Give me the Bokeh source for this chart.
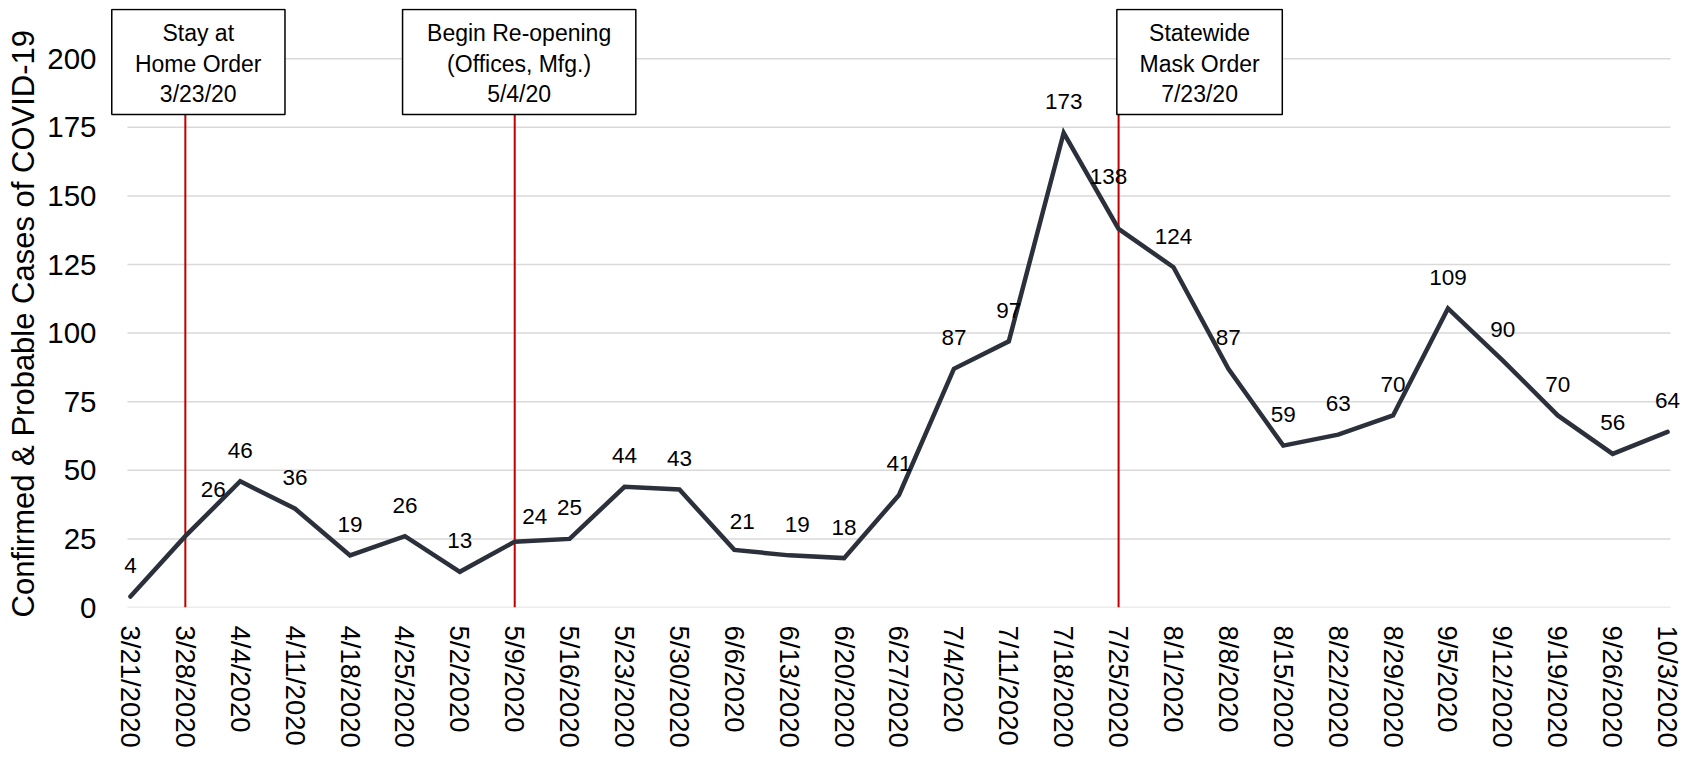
from bokeh.plotting import figure
from bokeh.models import Range1d, FixedTicker, ColumnDataSource, LabelSet, Title
from bokeh.core.properties import value
from bokeh.embed import file_html
from bokeh.resources import INLINE

# ---------------- data ----------------
week_labels = ["3/21/2020", "3/28/2020", "4/4/2020", "4/11/2020", "4/18/2020", "4/25/2020",
               "5/2/2020", "5/9/2020", "5/16/2020", "5/23/2020", "5/30/2020", "6/6/2020",
               "6/13/2020", "6/20/2020", "6/27/2020", "7/4/2020", "7/11/2020", "7/18/2020",
               "7/25/2020", "8/1/2020", "8/8/2020", "8/15/2020", "8/22/2020", "8/29/2020",
               "9/5/2020", "9/12/2020", "9/19/2020", "9/26/2020", "10/3/2020"]
cases = [4, 26, 46, 36, 19, 26, 13, 24, 25, 44, 43, 21, 19, 18, 41, 87, 97, 173,
         138, 124, 87, 59, 63, 70, 109, 90, 70, 56, 64]
y_ticks = [0, 25, 50, 75, 100, 125, 150, 175, 200]
y_axis_title = "Confirmed & Probable Cases of COVID-19"

event_texts = [["Stay at", "Home Order", "3/23/20"],
               ["Begin Re-opening", "(Offices, Mfg.)", "5/4/20"],
               ["Statewide", "Mask Order", "7/23/20"]]
event_weeks = ["3/28/2020", "5/9/2020", "7/25/2020"]

# ---------------- layout / style ----------------
FONT = "Liberation Sans"
LINE_COLOR = "#2b303b"
RED = "#c00000"
GRID = "#d9d9d9"

# horizontal layout (page pixels)
FIG_W = 1698
FRAME_LEFT_PAGE = 113
FIRST_PT_PAGE = 133.0
PX_PER_CAT = 55.07
PAGE_MARGIN = 8
n = len(week_labels)
x_start = (FRAME_LEFT_PAGE - FIRST_PT_PAGE) / PX_PER_CAT
x_end = (n - 1) + (PAGE_MARGIN + FIG_W - (FIRST_PT_PAGE + (n - 1) * PX_PER_CAT)) / PX_PER_CAT
GRID_PAD = 0.0545  # gridline extends slightly beyond first/last category

# box geometry (category units / data units)
BOX_TOP = 217.9
BOX_BOTTOM = 179.7
box_lr = [(-0.34, 2.815), (4.957, 9.206), (17.968, 20.982)]
box_cx = [1.235, 7.08, 19.475]
line_centers = [209.4, 198.1, 187.1]

# label offsets (screen px); default above the point
dx = [0] * n
dy = [31] * n
for i, (ox, oy) in {1: (28, 47), 7: (20, 25), 11: (8, 28), 12: (8, 31), 18: (-10, 52)}.items():
    dx[i], dy[i] = ox, oy

xs = list(range(n))

p = figure(width=FIG_W, height=750, output_backend="svg", toolbar_location=None,
           x_range=Range1d(x_start, x_end), y_range=Range1d(0, 218.3),
           min_border_left=FRAME_LEFT_PAGE - PAGE_MARGIN, min_border_right=0,
           min_border_top=8, min_border_bottom=142)
p.outline_line_color = None
p.background_fill_color = "white"
p.border_fill_color = "white"

p.xgrid.grid_line_color = None
p.ygrid.grid_line_color = None
p.yaxis.ticker = FixedTicker(ticks=y_ticks)
p.xaxis.ticker = FixedTicker(ticks=xs)
p.xaxis.major_label_overrides = {i: lab for i, lab in enumerate(week_labels)}

for ax in (p.xaxis[0], p.yaxis[0]):
    ax.axis_line_color = None
    ax.major_tick_line_color = None
    ax.minor_tick_line_color = None
    ax.major_tick_out = 0
    ax.major_tick_in = 0
    ax.major_label_text_font = FONT
    ax.major_label_text_color = "#000000"

p.xaxis.major_label_orientation = "vertical"
p.xaxis.major_label_text_font_size = "27.5px"
p.xaxis.major_label_standoff = 18
p.yaxis.major_label_text_font_size = "29.5px"
p.yaxis.major_label_standoff = 14

# y-axis title as a side title (starts slightly below the plot bottom, as in the original)
p.add_layout(Title(text=y_axis_title, align="left", offset=-10, standoff=7,
                   text_font=FONT, text_font_style="normal", text_font_size="31px",
                   text_color="#000000"), "left")

# horizontal gridlines spanning the category extent
p.segment(x0=[-GRID_PAD] * len(y_ticks), y0=y_ticks,
          x1=[(n - 1) + GRID_PAD] * len(y_ticks), y1=y_ticks,
          line_color=GRID, line_width=1.5)

# event red lines
ev_x = [week_labels.index(w) for w in event_weeks]
p.segment(x0=ev_x, y0=[0] * len(ev_x), x1=ev_x, y1=[BOX_BOTTOM] * len(ev_x),
          line_color=RED, line_width=2)

# main line
p.line(xs, cases, line_color=LINE_COLOR, line_width=4.5, line_join="miter", line_cap="round")

# data labels
src = ColumnDataSource(dict(x=xs, y=cases, t=[str(c) for c in cases], dx=dx, dy=dy))
p.add_layout(LabelSet(x="x", y="y", text="t", source=src, x_offset="dx", y_offset="dy",
                      text_align="center", text_baseline="middle",
                      text_font=value(FONT), text_font_size="22.5px", text_color="#000000"))

# event boxes
p.quad(left=[a for a, b in box_lr], right=[b for a, b in box_lr],
       top=[BOX_TOP] * 3, bottom=[BOX_BOTTOM] * 3,
       fill_color="white", line_color="#000000", line_width=1.5)
tx, ty, tt = [], [], []
for cx, lines in zip(box_cx, event_texts):
    for yc, s in zip(line_centers, lines):
        tx.append(cx); ty.append(yc); tt.append(s)
p.text(x=tx, y=ty, text=tt, text_align="center", text_baseline="middle",
       text_font=value(FONT), text_font_size="23px", text_color="#000000")

open("out.html", "w").write(file_html(p, INLINE))
